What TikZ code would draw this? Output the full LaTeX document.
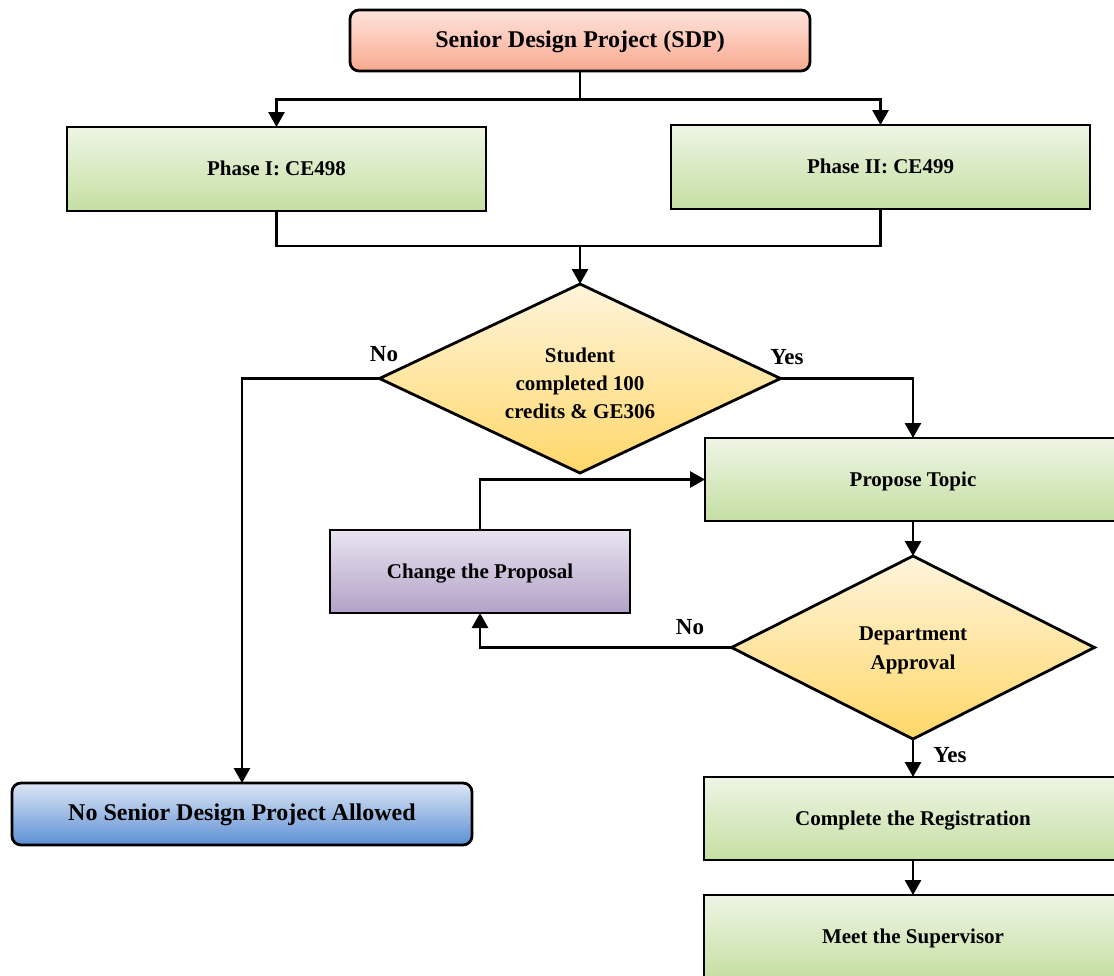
\documentclass[tikz,border=0pt]{standalone}
\usepackage{fontspec}
\setmainfont{Liberation Serif}
\usetikzlibrary{shapes.geometric,arrows.meta}

\definecolor{salmontop}{HTML}{FEE4DD}
\definecolor{salmonbot}{HTML}{F8A98E}
\definecolor{greentop}{HTML}{EEF5E5}
\definecolor{greenbot}{HTML}{C5DFA2}
\definecolor{purpletop}{HTML}{E9E4F0}
\definecolor{purplebot}{HTML}{B2A1C7}
\definecolor{bluetop}{HTML}{DDE6F4}
\definecolor{bluebot}{HTML}{5C8FD4}
\definecolor{yellowtop}{HTML}{FFF4DC}
\definecolor{yellowbot}{HTML}{FFD768}

\tikzset{
  base/.style={draw,line width=2.8pt,inner sep=0pt,outer sep=0pt,align=center,
    font=\fontsize{21}{28}\selectfont\bfseries},
  roundbox/.style={base,rectangle,rounded corners=9pt,text height=17pt,text depth=4pt,
    font=\fontsize{24}{28}\selectfont\bfseries},
  greenbox/.style={base,rectangle,text height=17pt,text depth=4pt,top color=greentop,bottom color=greenbot},
  decision/.style={base,diamond,aspect=2.1,top color=yellowtop,bottom color=yellowbot},
  lbl/.style={font=\fontsize{23}{28}\selectfont\bfseries,inner sep=0pt}
}

\begin{document}
\begin{tikzpicture}[x=1pt,y=-1pt,line width=2.8pt,>={Triangle[length=15pt,width=16pt]}]
\useasboundingbox (0,0) rectangle (1114,975);

% boxes
\node[roundbox,top color=salmontop,bottom color=salmonbot,minimum width=460,minimum height=61] (sdp) at (580,40.5) {Senior Design Project (SDP)};
\node[greenbox,minimum width=419,minimum height=84] (phaseone) at (276.5,169) {Phase I: CE498};
\node[greenbox,minimum width=419,minimum height=84] (phasetwo) at (880.5,167) {Phase II: CE499};
\node[decision,minimum width=401,minimum height=189] (credits) at (580,378.5) {\\[-4pt]Student\\completed 100\\credits \& GE306};
\node[greenbox,minimum width=416,minimum height=83] (propose) at (913,479.5) {Propose Topic};
\node[base,rectangle,text height=17pt,text depth=4pt,top color=purpletop,bottom color=purplebot,minimum width=300,minimum height=83] (change) at (480,571.5) {Change the Proposal};
\node[decision,minimum width=363,minimum height=183] (approval) at (913,647.5) {\\[-9pt]Department\\[1pt]Approval};
\node[greenbox,minimum width=418,minimum height=83] (register) at (913,818.5) {Complete the Registration};
\node[greenbox,minimum width=418,minimum height=84] (supervisor) at (913,937) {Meet the Supervisor};
\node[roundbox,top color=bluetop,bottom color=bluebot,minimum width=460,minimum height=62] (nosdp) at (242,814) {No Senior Design Project Allowed};

% labels
\node[lbl] (nocredits) at (384,354) {No};
\node[lbl] (yescredits) at (787,357) {Yes};
\node[lbl] (noapproval) at (690,627) {No};
\node[lbl] (yesapproval) at (950,755) {Yes};

% connectors
\coordinate (join) at (580,246);
\draw[->] (sdp.south) -- ++(0,28.5) -| (phaseone.north);
\draw[->] (sdp.south) -- ++(0,28.5) -| (phasetwo.north);
\draw (phaseone.south) |- (join);
\draw (phasetwo.south) |- (join);
\draw[->] (join) -- (credits.north);
\draw[->] (credits.west) -| (nosdp.north);
\draw[->] (credits.east) -| (propose.north);
\draw[->] (change.north) |- (propose.west);
\draw[->] (propose.south) -- (approval.north);
\draw[->] (approval.west) -| (change.south);
\draw[->] (approval.south) -- (register.north);
\draw[->] (register.south) -- (supervisor.north);
\end{tikzpicture}
\end{document}
